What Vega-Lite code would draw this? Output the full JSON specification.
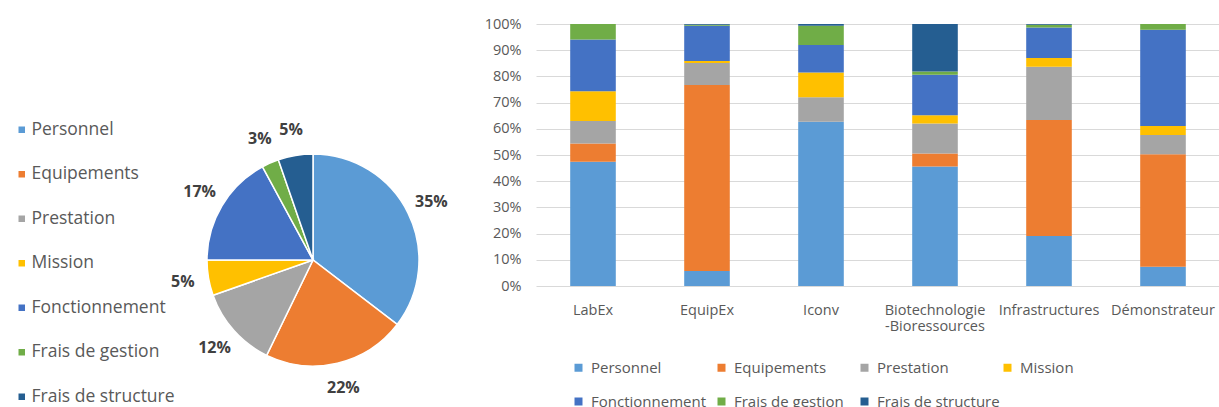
{
  "$schema": "https://vega.github.io/schema/vega-lite/v6.json",
  "background": "white",
  "padding": {"left": 13, "top": 16, "right": 0, "bottom": 0},
  "config": {
    "view": {"stroke": null},
    "font": "Open Sans",
    "axis": {"labelColor": "#595959"},
    "legend": {"labelColor": "#595959", "padding": 0}
  },
  "datasets": {
    "pie": [
      {"poste": "Personnel", "rang": 1, "part": 0.354},
      {"poste": "Equipements", "rang": 2, "part": 0.218},
      {"poste": "Prestation", "rang": 3, "part": 0.124},
      {"poste": "Mission", "rang": 4, "part": 0.054},
      {"poste": "Fonctionnement", "rang": 5, "part": 0.171},
      {"poste": "Frais de gestion", "rang": 6, "part": 0.026},
      {"poste": "Frais de structure", "rang": 7, "part": 0.053}
    ],
    "bars": [
      {"programme": "LabEx", "poste": "Personnel", "rang": 1, "pct": 47.4},
      {"programme": "LabEx", "poste": "Equipements", "rang": 2, "pct": 7.0},
      {"programme": "LabEx", "poste": "Prestation", "rang": 3, "pct": 8.6},
      {"programme": "LabEx", "poste": "Mission", "rang": 4, "pct": 11.3},
      {"programme": "LabEx", "poste": "Fonctionnement", "rang": 5, "pct": 19.8},
      {"programme": "LabEx", "poste": "Frais de gestion", "rang": 6, "pct": 5.9},
      {"programme": "LabEx", "poste": "Frais de structure", "rang": 7, "pct": 0},
      {"programme": "EquipEx", "poste": "Personnel", "rang": 1, "pct": 5.7},
      {"programme": "EquipEx", "poste": "Equipements", "rang": 2, "pct": 71.0},
      {"programme": "EquipEx", "poste": "Prestation", "rang": 3, "pct": 8.4},
      {"programme": "EquipEx", "poste": "Mission", "rang": 4, "pct": 0.8},
      {"programme": "EquipEx", "poste": "Fonctionnement", "rang": 5, "pct": 13.4},
      {"programme": "EquipEx", "poste": "Frais de gestion", "rang": 6, "pct": 0.4},
      {"programme": "EquipEx", "poste": "Frais de structure", "rang": 7, "pct": 0.3},
      {"programme": "Iconv", "poste": "Personnel", "rang": 1, "pct": 62.7},
      {"programme": "Iconv", "poste": "Equipements", "rang": 2, "pct": 0},
      {"programme": "Iconv", "poste": "Prestation", "rang": 3, "pct": 9.3},
      {"programme": "Iconv", "poste": "Mission", "rang": 4, "pct": 9.5},
      {"programme": "Iconv", "poste": "Fonctionnement", "rang": 5, "pct": 10.5},
      {"programme": "Iconv", "poste": "Frais de gestion", "rang": 6, "pct": 7.3},
      {"programme": "Iconv", "poste": "Frais de structure", "rang": 7, "pct": 0.7},
      {"programme": "Biotechnologie-Bioressources", "poste": "Personnel", "rang": 1, "pct": 45.6},
      {"programme": "Biotechnologie-Bioressources", "poste": "Equipements", "rang": 2, "pct": 5.0},
      {"programme": "Biotechnologie-Bioressources", "poste": "Prestation", "rang": 3, "pct": 11.4},
      {"programme": "Biotechnologie-Bioressources", "poste": "Mission", "rang": 4, "pct": 3.2},
      {"programme": "Biotechnologie-Bioressources", "poste": "Fonctionnement", "rang": 5, "pct": 15.4},
      {"programme": "Biotechnologie-Bioressources", "poste": "Frais de gestion", "rang": 6, "pct": 1.3},
      {"programme": "Biotechnologie-Bioressources", "poste": "Frais de structure", "rang": 7, "pct": 18.1},
      {"programme": "Infrastructures", "poste": "Personnel", "rang": 1, "pct": 19.1},
      {"programme": "Infrastructures", "poste": "Equipements", "rang": 2, "pct": 44.3},
      {"programme": "Infrastructures", "poste": "Prestation", "rang": 3, "pct": 20.3},
      {"programme": "Infrastructures", "poste": "Mission", "rang": 4, "pct": 3.3},
      {"programme": "Infrastructures", "poste": "Fonctionnement", "rang": 5, "pct": 11.7},
      {"programme": "Infrastructures", "poste": "Frais de gestion", "rang": 6, "pct": 1.0},
      {"programme": "Infrastructures", "poste": "Frais de structure", "rang": 7, "pct": 0.3},
      {"programme": "Démonstrateur", "poste": "Personnel", "rang": 1, "pct": 7.3},
      {"programme": "Démonstrateur", "poste": "Equipements", "rang": 2, "pct": 43.0},
      {"programme": "Démonstrateur", "poste": "Prestation", "rang": 3, "pct": 7.3},
      {"programme": "Démonstrateur", "poste": "Mission", "rang": 4, "pct": 3.5},
      {"programme": "Démonstrateur", "poste": "Fonctionnement", "rang": 5, "pct": 36.7},
      {"programme": "Démonstrateur", "poste": "Frais de gestion", "rang": 6, "pct": 2.2},
      {"programme": "Démonstrateur", "poste": "Frais de structure", "rang": 7, "pct": 0}
    ]
  },
  "resolve": {"scale": {"color": "independent"}, "legend": {"color": "independent"}},
  "spacing": 36,
  "hconcat": [
    {
      "spacing": 0,
      "resolve": {"scale": {"color": "independent"}, "legend": {"color": "independent"}},
      "vconcat": [
        {"width": 1, "height": 97, "data": {"values": []}, "mark": "point"},
        {
          "width": 212,
          "height": 212,
          "data": {"name": "pie"},
          "encoding": {
            "theta": {"field": "part", "type": "quantitative", "stack": true},
            "order": {"field": "rang", "type": "quantitative"}
          },
          "layer": [
            {
              "mark": {"type": "arc", "outerRadius": 106, "stroke": "white", "strokeWidth": 1.5},
              "encoding": {
                "color": {
                  "field": "poste", "type": "nominal",
                  "sort": ["Personnel", "Equipements", "Prestation", "Mission", "Fonctionnement", "Frais de gestion", "Frais de structure"],
                  "scale": {
                    "domain": ["Personnel", "Equipements", "Prestation", "Mission", "Fonctionnement", "Frais de gestion", "Frais de structure"],
                    "range": ["#5B9BD5", "#ED7D31", "#A5A5A5", "#FFC000", "#4472C4", "#70AD47", "#255E91"]
                  },
                  "legend": {
                    "title": null, "orient": "none", "legendX": -194, "legendY": -33,
                    "direction": "vertical", "symbolType": "square", "symbolSize": 64,
                    "labelFontSize": 17.5, "labelOffset": 1, "rowPadding": 25.5
                  }
                }
              }
            },
            {
              "mark": {"type": "text", "radius": 132, "fontSize": 16, "fontWeight": "bold", "fill": "#404040"},
              "encoding": {
                "text": {"field": "part", "type": "quantitative", "format": ".0%"}
              }
            }
          ]
        }
      ]
    },
    {
      "width": 684,
      "height": 262,
      "data": {"name": "bars"},
      "mark": {"type": "bar"},
      "encoding": {
        "x": {
          "field": "programme", "type": "nominal",
          "sort": ["LabEx", "EquipEx", "Iconv", "Biotechnologie-Bioressources", "Infrastructures", "Démonstrateur"],
          "scale": {"paddingInner": 0.6, "paddingOuter": 0.3},
          "axis": {
            "title": null, "labelAngle": 0, "ticks": false, "domain": false,
            "labelPadding": 17, "labelFontSize": 14.5, "labelOverlap": false, "labelLimit": 300,
            "labelExpr": "datum.label == 'Biotechnologie-Bioressources' ? ['Biotechnologie', '-Bioressources'] : datum.label"
          }
        },
        "y": {
          "field": "pct", "type": "quantitative", "stack": "normalize",
          "axis": {
            "title": null, "format": ".0%", "values": [0, 0.1, 0.2, 0.3, 0.4, 0.5, 0.6, 0.7, 0.8, 0.9, 1],
            "domain": false, "ticks": false, "gridColor": "#d9d9d9", "labelPadding": 15, "labelFontSize": 14.5
          }
        },
        "order": {"field": "rang", "type": "quantitative"},
        "color": {
          "field": "poste", "type": "nominal",
          "sort": ["Personnel", "Equipements", "Prestation", "Mission", "Fonctionnement", "Frais de gestion", "Frais de structure"],
          "scale": {
            "domain": ["Personnel", "Equipements", "Prestation", "Mission", "Fonctionnement", "Frais de gestion", "Frais de structure"],
            "range": ["#5B9BD5", "#ED7D31", "#A5A5A5", "#FFC000", "#4472C4", "#70AD47", "#255E91"]
          },
          "legend": {
            "title": null, "orient": "none", "legendX": 35, "legendY": 336,
            "direction": "horizontal", "columns": 4, "gridAlign": "all",
            "symbolType": "square", "symbolSize": 64, "labelFontSize": 15,
            "labelOffset": 5, "columnPadding": 0, "rowPadding": 18, "labelLimit": 200
          }
        }
      }
    }
  ]
}
